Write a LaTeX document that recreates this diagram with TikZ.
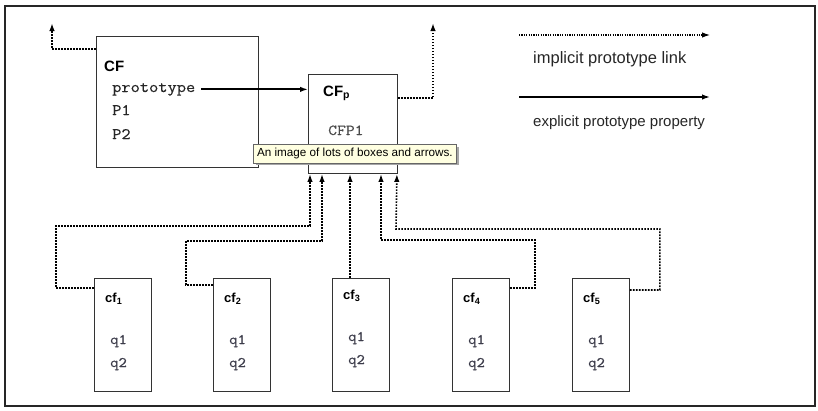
\documentclass[tikz,border=0pt]{standalone}
\usepackage{fontspec}
\setmainfont{Liberation Sans}
\newfontfamily\codefont{Latin Modern Mono}[FakeStretch=1.12, FakeBold=0.4]
\usetikzlibrary{arrows.meta,calc}

\definecolor{codegray}{HTML}{262626}
\definecolor{lightcode}{HTML}{4A4A4A}
\definecolor{qgray}{HTML}{3C3C4A}
\definecolor{tipfill}{HTML}{FFFFE1}

\begin{document}
\begin{tikzpicture}[x=1pt,y=-1pt,
  box/.style={draw=black!80, line width=0.9pt, fill=white, anchor=north west, inner sep=0pt},
  tip head/.style={-{Latex[length=8pt,width=5.5pt]}},
  implicit/.style={tip head, line width=1.6pt, dash pattern=on 1.6pt off 1.4pt},
  explicit/.style={tip head, line width=1.8pt},
  legend dots/.style={tip head, line width=1.1pt, dash pattern=on 1.1pt off 1.3pt},
  legend line/.style={tip head, line width=1.5pt},
  big title/.style={font=\fontsize{15}{18}\selectfont\bfseries, anchor=base west, inner sep=0pt},
  small title/.style={font=\fontsize{13}{15}\selectfont\bfseries, anchor=base west, inner sep=0pt},
  code/.style={font=\fontsize{16}{18}\codefont, text=codegray, anchor=base west, inner sep=0pt},
  field/.style={font=\fontsize{14.5}{17}\codefont, text=qgray, anchor=base west, inner sep=0pt},
  legend text/.style={anchor=base west, inner sep=0pt, text=black!85}
]
\useasboundingbox (0,0) rectangle (818,410);
\fill[white] (0,0) rectangle (818,410);
\draw[line width=2pt, black!85] (5,6) rectangle (815,406);

% the two class frames
\node[box, minimum width=162pt, minimum height=131pt] (CF) at (96,36) {};
\node[box, minimum width=89pt, minimum height=99pt] (CFp) at (308,74) {};

\node[big title] (CFlabel) at (104,71) {CF};
\node[code] (proto) at (112,92) {prototype};
\node[code] (p1) at (112,115) {P1};
\node[code] (p2) at (112,139) {P2};

\node[big title] (CFplabel) at (323,96) {CF\textsubscript{p}};
\node[code, text=lightcode, font=\fontsize{15.3}{18}\codefont] (cfp1) at (328,135) {CFP1};

% the five instance frames
\foreach \i/\x/\dy in {1/94/0, 2/213/0, 3/332/-3, 4/452/0, 5/572/0} {
  \node[box, minimum width=57pt, minimum height=113pt] (c\i) at (\x,278) {};
  \node[small title] (c\i label) at ($(c\i.north west)+(11,24+\dy)$) {cf\textsubscript{\i}};
  \node[field] (c\i q1) at ($(c\i.north west)+(16,66+\dy)$) {q1};
  \node[field] (c\i q2) at ($(c\i.north west)+(16,89+\dy)$) {q2};
}

% links going out of the picture
\coordinate (CFout) at (52,23);
\coordinate (CFpout) at (433,23);
\draw[implicit] ($(CF.north west)+(0,13)$) -| (CFout);
\draw[implicit] ($(CFp.north east)+(0,24)$) -| (CFpout);

% explicit prototype property
\draw[explicit] ([xshift=6pt]proto.east) -- (proto.east -| CFp.west);

% implicit links from the instances
\draw[implicit] ($(c1.north west)+(0,10)$) -- ++(-38,0) |- (310,226) -- ($(CFp.south west)+(2,0)$);
\draw[implicit] ($(c2.north west)+(0,7)$) -- ++(-27,0) |- (322,241) -- ($(CFp.south west)+(14,0)$);
\draw[implicit] ($(c3.north west)+(18,0)$) -- ($(CFp.south west)+(42,0)$);
\draw[implicit] ($(c4.north east)+(0,10)$) -- ++(25,0) |- (381,240) -- ($(CFp.south west)+(73,0)$);
\draw[implicit] ($(c5.north east)+(0,12)$) -- ++(30,0) |- (396,229) -- ($(CFp.south east)+(-1,0)$);

% legend
\coordinate (l1a) at (519,35);
\coordinate (l1b) at (710,35);
\coordinate (l2a) at (519,97);
\coordinate (l2b) at (710,97);
\draw[legend dots] (l1a) -- (l1b);
\draw[legend line] (l2a) -- (l2b);
\node[legend text, font=\fontsize{16.5}{19}\selectfont] (implabel) at (533,63) {implicit prototype link};
\node[legend text, font=\fontsize{15}{18}\selectfont] (explabel) at (533,126) {explicit prototype property};

% tooltip
\fill[black!35] (256,147) rectangle (459,165);
\node[draw=black!60, line width=0.8pt, fill=tipfill, anchor=north west,
      minimum width=203pt, minimum height=19pt, inner xsep=3.5pt, inner ysep=0pt,
      font=\fontsize{11.7}{14}\selectfont] (tip) at (253,144) {An image of lots of boxes and arrows.};
\end{tikzpicture}
\end{document}
